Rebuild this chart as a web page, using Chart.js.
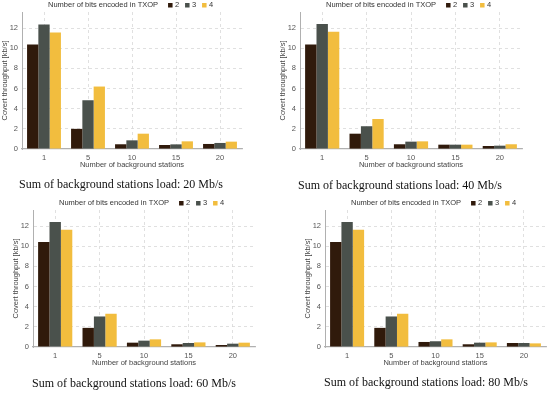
<!DOCTYPE html>
<html>
<head>
<meta charset="utf-8">
<script src="https://cdn.jsdelivr.net/npm/chart.js@4.4.0/dist/chart.umd.min.js"></script>
<style>
  body { margin: 0; background: #fff; width: 550px; height: 394px; position: relative; overflow: hidden; }
  .panel { position: absolute; width: 275px; height: 197px; }
  .caption { position: absolute; font-family: "Liberation Serif", serif; font-size: 12px; color: #111; white-space: nowrap; transform: translate(-50%, -50%); }
</style>
</head>
<body>
<div class="panel" style="left:0;top:0"><canvas id="c20" width="275" height="197"></canvas></div>
<div class="panel" style="left:275px;top:0"><canvas id="c40" width="275" height="197"></canvas></div>
<div class="panel" style="left:0;top:197px"><canvas id="c60" width="275" height="197"></canvas></div>
<div class="panel" style="left:275px;top:197px"><canvas id="c80" width="275" height="197"></canvas></div>
<div class="caption" style="left:121px;top:184px">Sum of background stations load: 20 Mb/s</div>
<div class="caption" style="left:400px;top:185px">Sum of background stations load: 40 Mb/s</div>
<div class="caption" style="left:134px;top:383px">Sum of background stations load: 60 Mb/s</div>
<div class="caption" style="left:426px;top:382px">Sum of background stations load: 80 Mb/s</div>
<script>
const categories = ["1", "5", "10", "15", "20"];
const bitLabels = ["2", "3", "4"];
const yTicks = [0, 2, 4, 6, 8, 10, 12];

// covert throughput [kb/s], one array per number of bits, per background load
const load20Bits2 = [10.38, 2.0, 0.47, 0.4, 0.5];
const load20Bits3 = [12.37, 4.84, 0.86, 0.46, 0.6];
const load20Bits4 = [11.57, 6.2, 1.52, 0.76, 0.73];

const load40Bits2 = [10.38, 1.52, 0.47, 0.43, 0.3];
const load40Bits3 = [12.4, 2.26, 0.73, 0.43, 0.33];
const load40Bits4 = [11.65, 2.98, 0.76, 0.43, 0.47];

const load60Bits2 = [10.42, 1.9, 0.43, 0.27, 0.2];
const load60Bits3 = [12.42, 3.03, 0.63, 0.4, 0.33];
const load60Bits4 = [11.65, 3.3, 0.76, 0.46, 0.43];

const load80Bits2 = [10.42, 1.9, 0.5, 0.27, 0.4];
const load80Bits3 = [12.42, 3.03, 0.57, 0.43, 0.4];
const load80Bits4 = [11.65, 3.3, 0.76, 0.46, 0.36];

const colors = ["#301a0b", "#4a514c", "#f2bd3e"];
const legendTitle = "Number of bits encoded in TXOP";
const font = '"Liberation Sans", Arial, sans-serif';

// legend drawn on one line: title then the boxes
const legendLine = {
    id: "legendLine",
    afterDraw(chart) {
        const ctx = chart.ctx;
        const area = chart.chartArea;
        let x = area.left + 26;
        const y = area.top - 7;
        ctx.save();
        ctx.font = "7.5px " + font;
        ctx.textBaseline = "middle";
        ctx.fillStyle = "#333";
        ctx.fillText(legendTitle, x, y);
        x += ctx.measureText(legendTitle).width + 10;
        chart.data.datasets.forEach(ds => {
            ctx.fillStyle = ds.backgroundColor;
            ctx.fillRect(x, y - 2, 4.5, 4.5);
            ctx.fillStyle = "#333";
            ctx.fillText(ds.label, x + 7, y);
            x += 17;
        });
        ctx.restore();
    }
};

function makeChart(id, series, pad) {
    return new Chart(document.getElementById(id), {
        type: "bar",
        data: {
            labels: categories,
            datasets: series.map((values, i) => ({
                label: bitLabels[i],
                data: values,
                backgroundColor: colors[i],
                borderWidth: 0,
                categoryPercentage: 0.77,
                barPercentage: 1.0
            }))
        },
        options: {
            responsive: false,
            animation: false,
            layout: { padding: pad },
            plugins: { legend: { display: false }, tooltip: { enabled: false } },
            scales: {
                x: {
                    grid: { offset: false, drawTicks: false, color: "#d8d8d8", lineWidth: 0.8 },
                    border: { display: true, color: "#b0b0b0", width: 1.3, dash: [3, 3] },
                    ticks: { padding: 4, color: "#555", font: { family: font, size: 7.5 } },
                    title: { display: true, text: "Number of background stations", color: "#444", padding: 0, font: { family: font, size: 7.5 } },
                    afterFit: s => { s.height = 20; }
                },
                y: {
                    min: 0,
                    max: 13.6,
                    grid: { drawTicks: false, color: c => c.tick.value === 0 ? "rgba(0,0,0,0)" : "#d8d8d8", lineWidth: 0.8 },
                    border: { display: true, color: "#b0b0b0", width: 1, dash: [3, 3] },
                    ticks: { stepSize: 2, includeBounds: false, padding: 4, color: "#555", font: { family: font, size: 7.5 } },
                    afterBuildTicks: s => { s.ticks = yTicks.map(v => ({ value: v })); },
                    title: { display: true, text: "Covert throughput [kb/s]", color: "#444", padding: 0, font: { family: font, size: 7.5 } },
                    afterFit: s => { s.width = 22; }
                }
            }
        },
        plugins: [legendLine]
    });
}

makeChart("c20", [load20Bits2, load20Bits3, load20Bits4], { left: 0, right: 33, top: 12, bottom: 28 });
makeChart("c40", [load40Bits2, load40Bits3, load40Bits4], { left: 3, right: 28, top: 12, bottom: 28 });
makeChart("c60", [load60Bits2, load60Bits3, load60Bits4], { left: 11, right: 20, top: 13, bottom: 27 });
makeChart("c80", [load80Bits2, load80Bits3, load80Bits4], { left: 28, right: 4, top: 13, bottom: 27 });
</script>
</body>
</html>
